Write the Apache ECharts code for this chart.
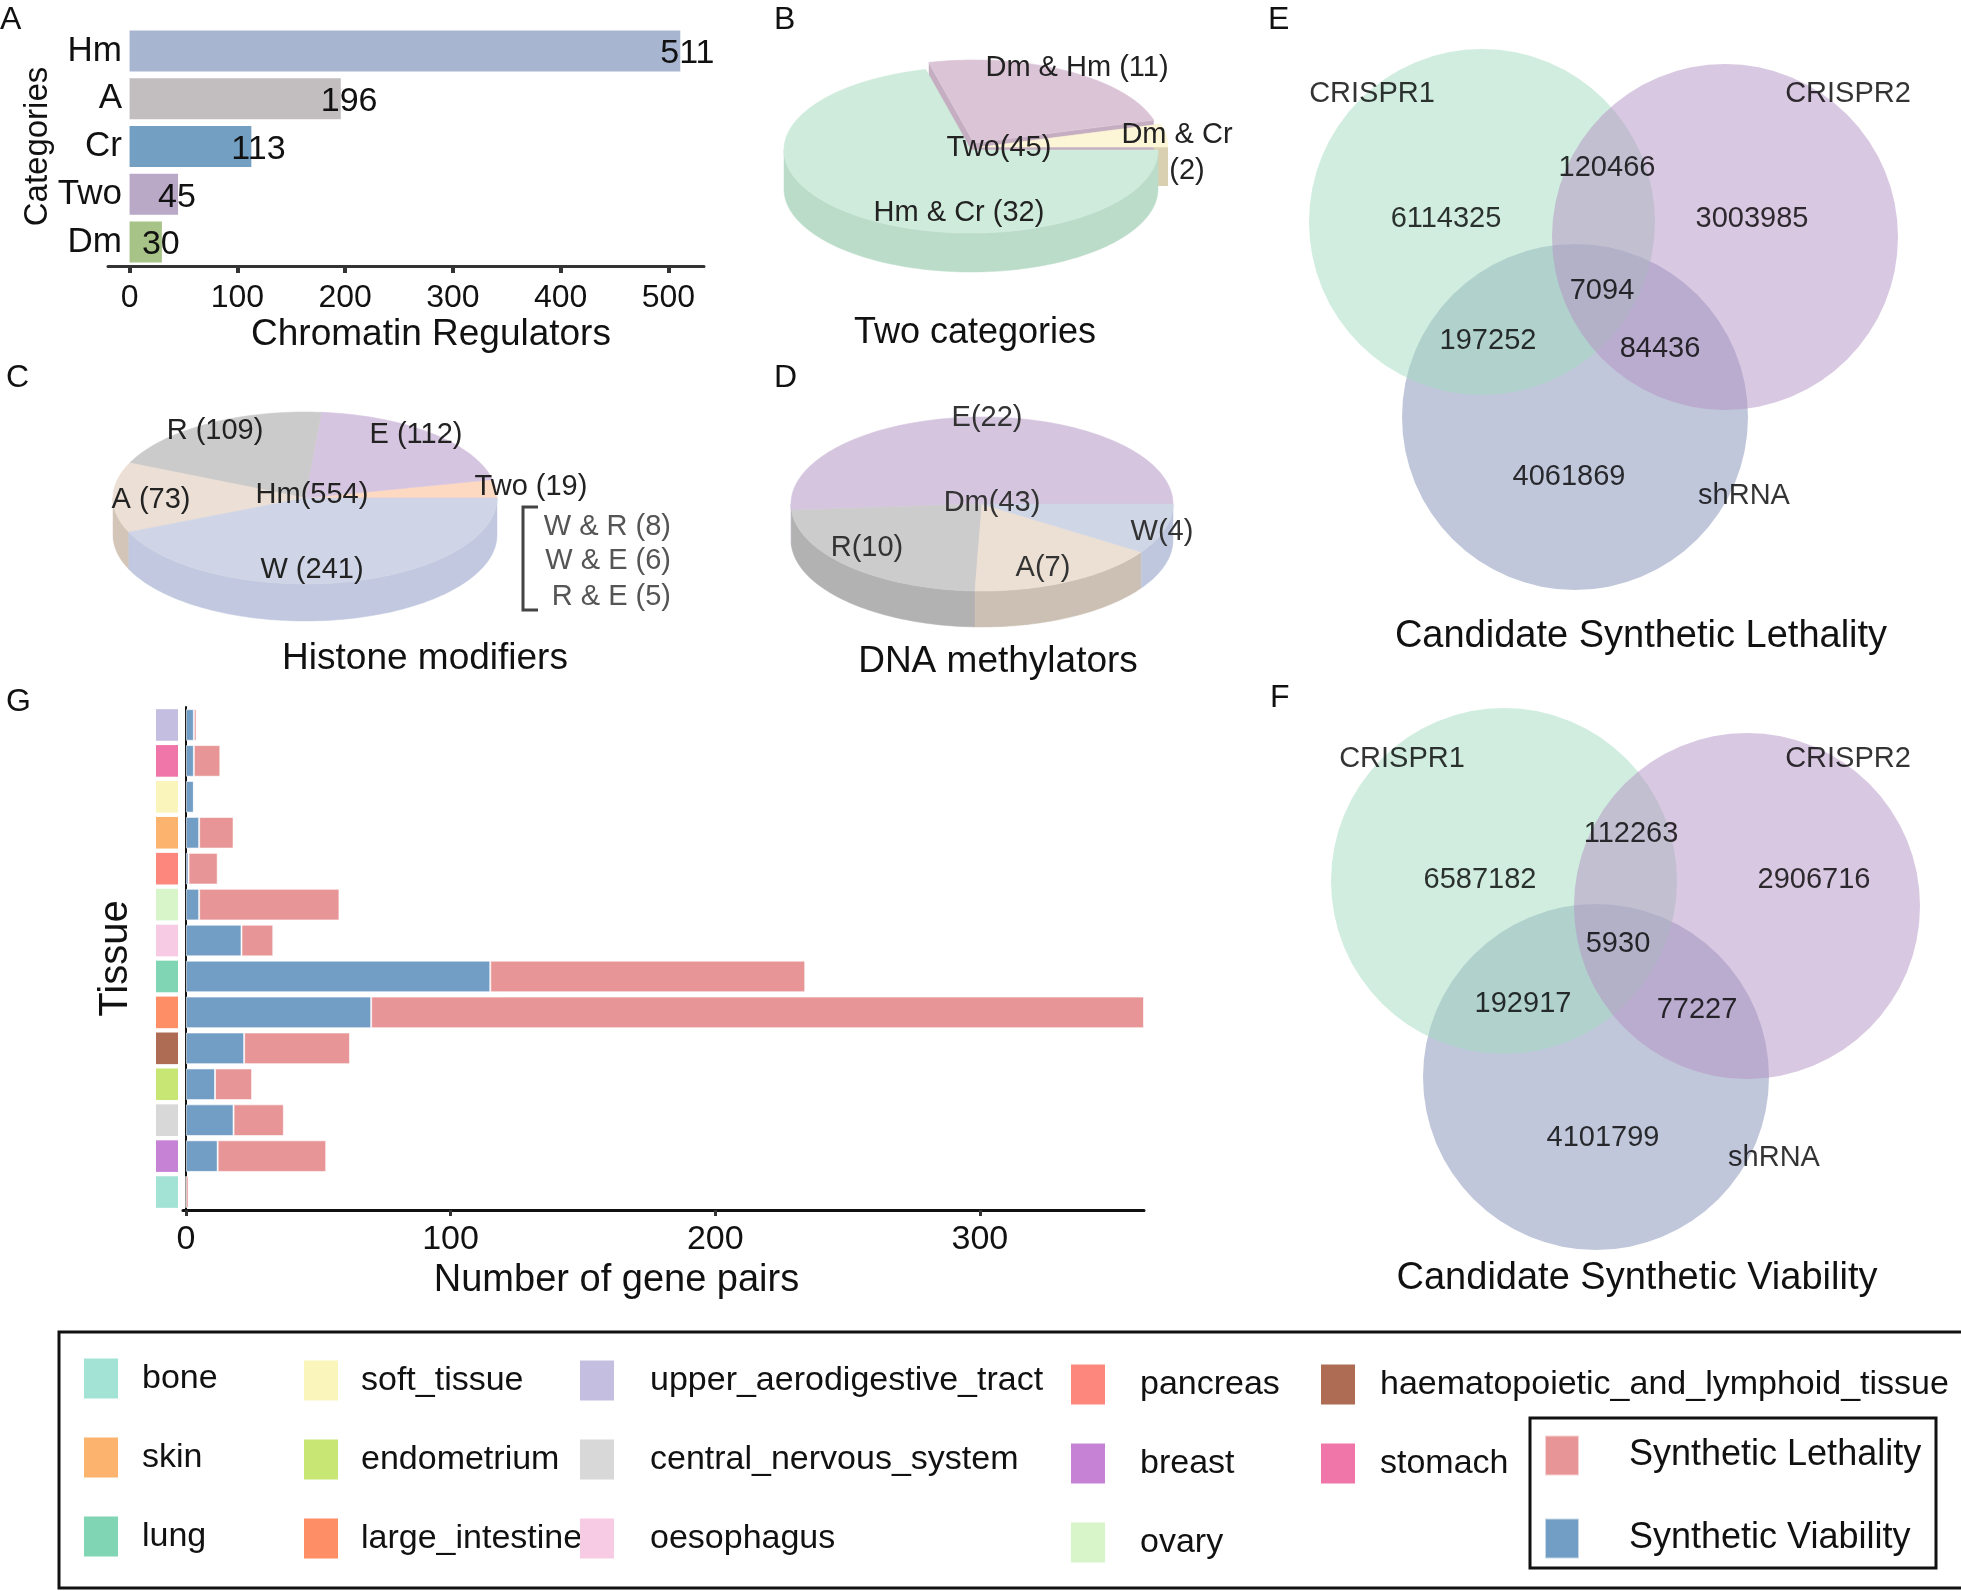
<!DOCTYPE html>
<html>
<head>
<meta charset="utf-8">
<script src="https://cdn.jsdelivr.net/npm/echarts@6/dist/echarts.min.js"></script>
<style>html,body{margin:0;padding:0;background:#fff}#main{width:1961px;height:1591px}</style>
</head>
<body>
<div id="main"></div>
<script>
// ---------------- DATA ----------------
// Panel A
const aCategories = ['Hm', 'A', 'Cr', 'Two', 'Dm'];
const aValues = [511, 196, 113, 45, 30];
const aTicks = [0, 100, 200, 300, 400, 500];
// Panel B (Two categories)
const bNames = ['Dm & Cr', 'Dm & Hm', 'Hm & Cr'];
const bValues = [2, 11, 32];
const bCenter = 'Two';
// Panel C (Histone modifiers)
const cNames = ['Two', 'E', 'R', 'A', 'W'];
const cValues = [19, 112, 109, 73, 241];
const cCenter = 'Hm';
const cTwoNames = ['W & R', 'W & E', 'R & E'];
const cTwoValues = [8, 6, 5];
// Panel D (DNA methylators)
const dNames = ['E', 'R', 'A', 'W'];
const dValues = [22, 10, 7, 4];
const dCenter = 'Dm';
// Panels E / F (Venn)
const vennSets = ['CRISPR1', 'CRISPR2', 'shRNA'];
// regions: CRISPR1 only, CRISPR1&2, CRISPR2 only, all three, CRISPR1&shRNA, CRISPR2&shRNA, shRNA only
const slCounts = [6114325, 120466, 3003985, 7094, 197252, 84436, 4061869];
const svCounts = [6587182, 112263, 2906716, 5930, 192917, 77227, 4101799];
// Panel G
const tissues = ['bone', 'breast', 'central_nervous_system', 'endometrium',
  'haematopoietic_and_lymphoid_tissue', 'large_intestine', 'lung', 'oesophagus',
  'ovary', 'pancreas', 'skin', 'soft_tissue', 'stomach', 'upper_aerodigestive_tract'];
const svValues = [0, 12, 18, 11, 22, 70, 115, 21, 5, 1, 5, 3, 3, 3];
const slValues = [1, 41, 19, 14, 40, 292, 119, 12, 53, 11, 13, 0, 10, 1];
const gTicks = [0, 100, 200, 300];

// ---------------- STYLE / LAYOUT ----------------
const FONT = "'Liberation Sans', Arial, Helvetica, sans-serif";
const aColors = ['#a8b5d1', '#c2bebf', '#73a0c2', '#b9a8c6', '#a8c388'];
const tissueColors = ['#a3e3d5', '#c683d6', '#d8d8d8', '#c8e673', '#ae6c55', '#fd8e66',
  '#80d5b5', '#f8cbe4', '#d7f5c9', '#fd877c', '#fbb36d', '#faf5bb', '#f075a8', '#c4bfe1'];
const SV_COLOR = '#729dc5', SL_COLOR = '#e79596';

function pie3d(spec) {
  const total = spec.values.reduce((a, b) => a + b, 0);
  const cum = []; let s = 0;
  spec.values.forEach(v => { cum.push(s); s += v; });
  const g = spec.geom;
  return {
    type: 'custom', coordinateSystem: 'none', silent: true, animation: false,
    data: spec.values.map((v, i) => ({ name: spec.names[i], value: v })),
    renderItem: function (params, api) {
      const i = params.dataIndex;
      const v = api.value(0);
      const t1 = cum[i] / total * 360, t2 = (cum[i] + v) / total * 360;
      const ex = spec.explode ? spec.explode[i][0] : 0;
      const ey = spec.explode ? spec.explode[i][1] : 0;
      const P = (t, dy) => { const r = t * Math.PI / 180; return [g.cx + ex + g.rx * Math.cos(r), g.cy + ey - g.ry * Math.sin(r) + (dy || 0)]; };
      const arc = (a, b, dy) => { const n = Math.max(2, Math.ceil((b - a) / 1.5)); const pts = []; for (let k = 0; k <= n; k++) pts.push(P(a + (b - a) * k / n, dy)); return pts; };
      const C = [g.cx + ex, g.cy + ey];
      const children = [];
      if (ex || ey) {
        [t1, t2].forEach(t => {
          const R = P(t, 0);
          children.push({ type: 'polygon', shape: { points: [C, R, [R[0], R[1] + g.depth], [C[0], C[1] + g.depth]] }, style: { fill: spec.sides[i] }, z2: 1 });
        });
      }
      const a = Math.max(t1, 180), b = Math.min(t2, 360);
      if (b > a) {
        const top = arc(a, b, 0), bot = arc(a, b, g.depth).reverse();
        children.push({ type: 'polygon', shape: { points: top.concat(bot) }, style: { fill: spec.sides[i], stroke: spec.sides[i], lineWidth: 0.5 }, z2: 3 });
      }
      children.push({ type: 'polygon', shape: { points: [C].concat(arc(t1, t2, 0)) }, style: { fill: spec.colors[i], stroke: spec.colors[i], lineWidth: 0.6 }, z2: 10 });
      const L = spec.labels[i];
      if (L.split) {
        children.push({ type: 'text', style: { x: L.x, y: L.y, text: spec.names[i], fill: spec.textColor, fontSize: 29, fontFamily: FONT, align: 'center', verticalAlign: 'middle' }, z2: 20 });
        children.push({ type: 'text', style: { x: L.x2, y: L.y2, text: '(' + v + ')', fill: spec.textColor, fontSize: 29, fontFamily: FONT, align: 'center', verticalAlign: 'middle' }, z2: 20 });
      } else {
        children.push({ type: 'text', style: { x: L.x, y: L.y, text: spec.names[i] + spec.sep + '(' + v + ')', fill: spec.textColor, fontSize: 29, fontFamily: FONT, align: 'center', verticalAlign: 'middle' }, z2: 20 });
      }
      if (i === 0) {
        children.push({ type: 'text', style: { x: spec.centerPos.x, y: spec.centerPos.y, text: spec.center + '(' + total + ')', fill: spec.textColor, fontSize: 29, fontFamily: FONT, align: 'center', verticalAlign: 'middle' }, z2: 20 });
      }
      return { type: 'group', children: children };
    }
  };
}

const pieB = pie3d({
  names: bNames, values: bValues, center: bCenter, sep: ' ', textColor: '#222',
  colors: ['#fdf6d6', '#dcc4d7', '#cfebdc'], sides: ['#d8d0b0', '#c6aec2', '#bcdcca'],
  explode: [[10, -3], [3, -7], [0, 0]],
  geom: { cx: 971, cy: 150, rx: 187, ry: 83, depth: 39 },
  labels: [{ x: 1177, y: 135, x2: 1187, y2: 171, split: true }, { x: 1077, y: 68 }, { x: 959, y: 213 }],
  centerPos: { x: 999, y: 148 }
});
const pieC = pie3d({
  names: cNames, values: cValues, center: cCenter, sep: ' ', textColor: '#222',
  colors: ['#fdd9c2', '#d6c5e0', '#cccbcb', '#ecdfd5', '#cfd5e6'],
  sides: ['#e8c4ad', '#bfb0cc', '#b5b3b3', '#d3c5b8', '#c1c8df'],
  geom: { cx: 305, cy: 498, rx: 192, ry: 86, depth: 37 },
  labels: [{ x: 531, y: 487 }, { x: 416, y: 435 }, { x: 215, y: 431 }, { x: 151, y: 500 }, { x: 312, y: 570 }],
  centerPos: { x: 312, y: 495 }
});
const pieD = pie3d({
  names: dNames, values: dValues, center: dCenter, sep: '', textColor: '#333',
  colors: ['#d5c5df', '#cccccc', '#ecdfd4', '#cfd6e5'],
  sides: ['#bfb0ca', '#b3b2b3', '#cbc0b3', '#bfc7df'],
  geom: { cx: 982, cy: 504, rx: 191, ry: 87, depth: 36 },
  labels: [{ x: 987, y: 418 }, { x: 867, y: 548 }, { x: 1043, y: 568 }, { x: 1162, y: 532 }],
  centerPos: { x: 992, y: 503 }
});

// Venn layout (pixel units of the full canvas grid)
const vennLayout = [
  { counts: slCounts,
    circles: [[1482, 222], [1725, 237], [1575, 417]],
    setLabels: [[1372, 94], [1848, 94], [1744, 496]],
    regions: [[1446, 219], [1607, 168], [1752, 219], [1602, 291], [1488, 341], [1660, 349], [1569, 477]] },
  { counts: svCounts,
    circles: [[1504, 881], [1747, 906], [1596, 1077]],
    setLabels: [[1402, 759], [1848, 759], [1774, 1158]],
    regions: [[1480, 880], [1631, 834], [1814, 880], [1618, 944], [1523, 1004], [1697, 1010], [1603, 1138]] }
];
const vennColors = ['#a1dbbf', '#b391c4', '#838fb7'];
const vennDrawOrder = [2, 0, 1];

const vennSeries = [];
vennDrawOrder.forEach((k, n) => {
  vennSeries.push({
    type: 'scatter', name: vennSets[k], xAxisIndex: 3, yAxisIndex: 3, silent: true, z: 2 + n * 0.1,
    symbolSize: 346, itemStyle: { color: vennColors[k], opacity: 0.5 },
    data: vennLayout.map(v => ({ name: vennSets[k], value: v.circles[k] }))
  });
});
const vennTextData = [];
vennLayout.forEach(v => {
  vennSets.forEach((s, k) => vennTextData.push({ value: [v.setLabels[k][0], v.setLabels[k][1], s] }));
  v.counts.forEach((c, k) => vennTextData.push({ value: [v.regions[k][0], v.regions[k][1], c] }));
});
vennSeries.push({
  type: 'scatter', name: 'venn-text', xAxisIndex: 3, yAxisIndex: 3, silent: true, z: 10, zlevel: 1,
  symbolSize: 1, itemStyle: { color: 'rgba(0,0,0,0)' },
  label: { show: true, position: 'inside', color: '#000', fontSize: 29, fontFamily: FONT, textBorderWidth: 0, formatter: p => String(p.value[2]) },
  data: vennTextData
});

// G indicator series (one per tissue)
const indicatorSeries = tissues.map((t, i) => ({
  name: t, type: 'bar', xAxisIndex: 2, yAxisIndex: 2, stack: 'ind', barWidth: '88%', silent: true,
  itemStyle: { color: tissueColors[i] },
  data: tissues.map((_, j) => (j === i ? 1 : '-'))
}));

const legendCols = [
  { names: ['bone', 'skin', 'lung'], x: 84, top: 1357, pad: 19 },
  { names: ['soft_tissue', 'endometrium', 'large_intestine'], x: 304, top: 1359, pad: 18 },
  { names: ['upper_aerodigestive_tract', 'central_nervous_system', 'oesophagus'], x: 580, top: 1359, pad: 31 },
  { names: ['pancreas', 'breast', 'ovary'], x: 1071, top: 1363, pad: 30 },
  { names: ['haematopoietic_and_lymphoid_tissue', 'stomach'], x: 1321, top: 1363, pad: 20 },
  { names: ['Synthetic Lethality', 'Synthetic Viability'], x: 1544, top: 1434, pad: 45, gap: 40, size: 36 }
];

function txt(x, y, text, size, opts) {
  opts = opts || {};
  return { type: 'text', x: x, y: y, silent: true,
    style: { text: text, fontSize: size, fontFamily: FONT, fill: opts.color || '#111', align: opts.align || 'center', verticalAlign: 'middle' } };
}

const graphics = [
  txt(0, 20, 'A', 32, { align: 'left' }), txt(774, 20, 'B', 32, { align: 'left' }),
  txt(6, 378, 'C', 32, { align: 'left' }), txt(774, 378, 'D', 32, { align: 'left' }),
  txt(1268, 20, 'E', 32, { align: 'left' }), txt(1270, 698, 'F', 32, { align: 'left' }),
  txt(6, 702, 'G', 32, { align: 'left' }),
  txt(975, 333, 'Two categories', 36),
  txt(425, 659, 'Histone modifiers', 37),
  txt(998, 662, 'DNA methylators', 37),
  txt(1641, 637, 'Candidate Synthetic Lethality', 38),
  txt(1637, 1279, 'Candidate Synthetic Viability', 38),
  { type: 'polyline', silent: true, shape: { points: [[538, 507], [523, 507], [523, 610], [538, 610]] }, style: { stroke: '#444', lineWidth: 3, fill: null } },
  { type: 'rect', silent: true, shape: { x: 59, y: 1332, width: 1930, height: 256 }, style: { stroke: '#111', lineWidth: 3, fill: null } },
  { type: 'rect', silent: true, shape: { x: 1530, y: 1418, width: 406, height: 150 }, style: { stroke: '#111', lineWidth: 3, fill: null } }
];
const cTwoY = [527, 561, 597];
cTwoNames.forEach((n, i) => graphics.push(txt(671, cTwoY[i], n + ' (' + cTwoValues[i] + ')', 29, { align: 'right', color: '#555' })));

const option = {
  animation: false,
  backgroundColor: '#ffffff',
  textStyle: { fontFamily: FONT },
  grid: [
    { left: 108, top: 27, width: 596, height: 239 },
    { left: 183, top: 707, width: 961, height: 503 },
    { left: 156, top: 707, width: 22, height: 503 },
    { left: 0, top: 0, width: 1961, height: 1591 }
  ],
  xAxis: [
    { gridIndex: 0, type: 'value', min: -20, max: 533,
      axisLine: { show: true, lineStyle: { color: '#333', width: 3 } },
      axisTick: { show: true, customValues: aTicks, length: 7, lineStyle: { color: '#333', width: 4 } },
      axisLabel: { customValues: aTicks, fontSize: 32, color: '#111', margin: 16 },
      splitLine: { show: false },
      name: 'Chromatin Regulators', nameLocation: 'middle', nameGap: 50,
      nameTextStyle: { fontSize: 37, color: '#111', padding: [0, 0, 0, 50] } },
    { gridIndex: 1, type: 'value', min: -1.1, max: 362,
      axisLine: { show: true, lineStyle: { color: '#111', width: 3 } },
      axisTick: { show: true, customValues: gTicks, length: 6, lineStyle: { color: '#333', width: 3 } },
      axisLabel: { customValues: gTicks, fontSize: 34, color: '#111', margin: 13 },
      splitLine: { show: false },
      name: 'Number of gene pairs', nameLocation: 'middle', nameGap: 52,
      nameTextStyle: { fontSize: 38, color: '#111', padding: [0, 94, 0, 0] } },
    { gridIndex: 2, type: 'value', min: 0, max: 1, show: false },
    { gridIndex: 3, type: 'value', min: 0, max: 1961, show: false }
  ],
  yAxis: [
    { gridIndex: 0, type: 'category', data: aCategories, inverse: true,
      axisLine: { show: false }, axisTick: { show: false },
      axisLabel: { fontSize: 35, color: '#111', margin: -14 },
      name: 'Categories', nameLocation: 'middle', nameGap: 44, nameRotate: 90,
      nameTextStyle: { fontSize: 33, color: '#111' } },
    { gridIndex: 1, type: 'category', data: tissues,
      axisLine: { show: true, lineStyle: { color: '#111', width: 2 } },
      axisTick: { show: false }, axisLabel: { show: false } },
    { gridIndex: 2, type: 'category', data: tissues,
      axisLine: { show: false }, axisTick: { show: false }, axisLabel: { show: false },
      name: 'Tissue', nameLocation: 'middle', nameGap: 20, nameRotate: 90,
      nameTextStyle: { fontSize: 40, color: '#111' } },
    { gridIndex: 3, type: 'value', min: 0, max: 1591, inverse: true, show: false }
  ],
  legend: legendCols.map(c => ({
    data: c.names, left: c.x, top: c.top, orient: 'vertical', icon: 'rect',
    itemWidth: 34, itemHeight: 40, itemGap: c.gap || 36, selectedMode: false, padding: 0,
    textStyle: { fontSize: c.size || 34, color: '#111', fontFamily: FONT, padding: [3, 0, 0, c.pad], lineHeight: 40 }
  })),
  series: [
    { type: 'bar', name: 'A', xAxisIndex: 0, yAxisIndex: 0, barWidth: 41, silent: true,
      data: aValues.map((v, i) => ({ value: v, itemStyle: { color: aColors[i] } })),
      label: { show: true, position: 'right', offset: [-25, 3], fontSize: 34, color: '#111' } },
    { type: 'bar', name: 'Synthetic Viability', xAxisIndex: 1, yAxisIndex: 1, stack: 'g', barWidth: '88%', silent: true,
      itemStyle: { color: SV_COLOR, borderColor: 'rgba(255,255,255,0.6)', borderWidth: 1 }, data: svValues },
    { type: 'bar', name: 'Synthetic Lethality', xAxisIndex: 1, yAxisIndex: 1, stack: 'g', barWidth: '88%', silent: true,
      itemStyle: { color: SL_COLOR, borderColor: 'rgba(255,255,255,0.6)', borderWidth: 1 }, data: slValues },
    ...indicatorSeries,
    pieB, pieC, pieD,
    ...vennSeries
  ],
  graphic: graphics
};

const chart = echarts.init(document.getElementById('main'), null, { renderer: 'canvas' });
chart.setOption(option);
</script>
</body>
</html>
